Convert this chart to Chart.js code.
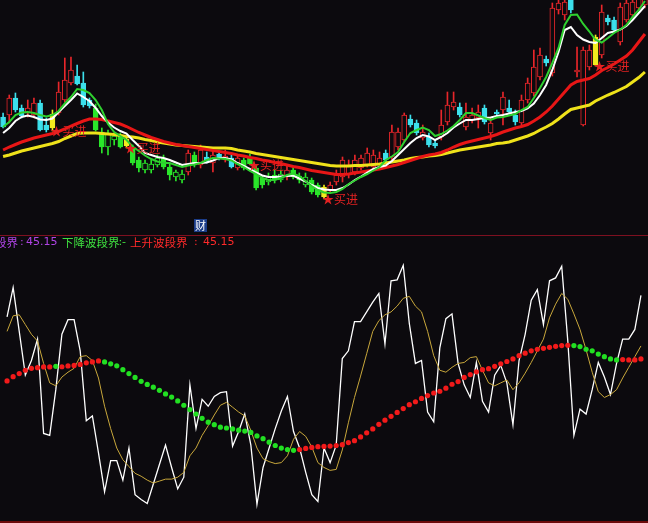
<!DOCTYPE html>
<html>
<head>
<meta charset="utf-8">
<script src="https://cdn.jsdelivr.net/npm/chart.js@4.4.1/dist/chart.umd.min.js"></script>
<style>
html, body { margin: 0; padding: 0; background: #0c0a0e; overflow: hidden; }
#wrap { position: relative; width: 648px; height: 523px; background: #0c0a0e; overflow: hidden; }
canvas { position: absolute; left: 0; }
.sep { position: absolute; left: 0; width: 648px; height: 1px; background: #7e1020; }
.lg { position: absolute; top: 235px; line-height: 14px; white-space: pre; }
.lg.name { font-size: 11.5px; font-family: "Noto Sans CJK SC", sans-serif; }
.lg.val { font-size: 11px; font-family: "DejaVu Sans", sans-serif; }
#cai { position: absolute; left: 194px; top: 219px; width: 13px; height: 13px; background: #1b3c88;
       color: #fff; font: 11px/13px "Noto Sans CJK SC", sans-serif; text-align: center; }
</style>
</head>
<body>
<div id="wrap">
  <canvas id="kline" width="648" height="235" style="top:0"></canvas>
  <canvas id="osc" width="648" height="288" style="top:235px"></canvas>
  <div class="sep" style="top:235px"></div>
  <div class="sep" style="top:521px;height:2px;background:#6c0a0a"></div>
  <div id="cai">财</div>
</div>
<script>
/* ============================================================
   DATA
============================================================ */
const days = Array.from({ length: 105 }, (_, i) => "D" + (i + 1));

const open = [48.3,48.5,50.2,49.2,48.7,48.5,49.7,47.5,47.2,48.7, 50.0,51.7,52.4,51.7,50.0,49.2,46.8,45.3,46.0,46.4,
  45.4,45.2,44.0,43.0,43.0,43.5,44.2,43.3,42.3,42.0, 42.8,44.5,43.5,44.3,43.7,44.6,44.0,44.2,43.2,44.0,
  44.3,43.2,42.2,41.8,42.5,42.0,42.3,43.0,42.4,41.5, 42.0,41.5,40.3,41.0,41.8,42.3,42.5,42.8,43.2,43.5,
  43.3,43.5,44.7,44.3,45.3,46.0,48.1,47.7,46.2,46.3, 45.7,46.3,47.8,49.3,49.3,47.3,48.0,48.2,49.2,46.7,
  48.8,49.0,49.2,48.5,47.7,50.0,50.7,52.3,54.1,52.7, 59.0,58.5,60.0,52.8,47.5,53.3,53.5,54.5,58.2,58.0,
  55.8,58.0,58.5,59.2,59.5];
const close = [47.3,50.2,49.0,48.4,49.2,49.7,47.0,47.0,48.6,50.8, 52.0,53.0,51.6,49.5,49.4,47.0,45.3,46.7,46.4,45.3,
  46.1,43.7,43.2,43.7,43.6,44.2,43.3,42.5,42.8,42.6, 44.7,43.5,45.0,43.9,44.5,44.2,44.4,43.3,44.2,43.2,
  43.6,41.2,41.5,42.4,42.0,42.6,43.0,42.3,42.0,42.3, 40.8,40.5,41.3,41.5,42.5,44.0,43.5,44.0,44.2,44.7,
  44.5,44.2,44.0,46.8,46.8,48.5,47.5,46.7,46.8,45.5, 45.4,47.5,49.5,49.8,48.5,48.3,48.5,48.8,47.8,47.7,
  48.6,50.3,48.8,47.8,50.0,51.7,53.3,54.5,53.7,59.2, 59.7,59.8,59.0,53.0,55.0,55.0,56.3,58.8,57.8,57.0,
  59.3,59.7,59.8,60.3,60.3];
const high = [48.7,50.5,50.7,49.5,50.0,50.2,50.0,48.2,49.0,51.8, 54.2,54.3,53.5,52.8,50.2,49.6,47.2,47.0,46.7,46.7,
  46.4,45.5,44.3,44.0,44.0,44.5,44.5,43.6,43.0,43.0, 45.0,44.8,45.5,44.8,45.0,44.8,45.0,44.5,44.5,44.2,
  44.6,43.5,42.4,42.7,43.0,43.0,43.5,43.4,42.7,42.7, 42.2,41.7,41.5,41.8,43.0,44.3,44.0,44.5,44.5,45.2,
  45.0,44.8,45.0,47.5,47.2,48.7,48.5,48.0,47.5,46.7, 46.0,49.0,50.8,50.8,49.7,49.7,49.2,49.5,49.5,48.2,
  49.0,50.8,50.0,49.0,50.5,52.2,55.0,55.2,54.4,59.7, 60.5,60.5,60.5,55.3,55.3,55.5,56.5,59.5,58.5,58.3,
  59.7,60.5,60.5,60.5,60.5];
const low = [47.2,47.7,48.8,48.2,48.3,48.2,46.9,46.8,46.9,48.5, 49.8,51.5,51.5,49.3,49.2,46.9,44.7,44.5,45.5,45.2,
  45.2,43.5,42.8,42.7,42.7,43.3,43.1,42.0,41.9,41.7, 42.5,43.3,43.2,43.7,42.8,44.0,43.8,43.2,43.0,43.0,
  43.5,41.0,41.2,41.5,41.7,41.8,42.0,42.1,41.7,41.3, 40.6,40.3,40.1,40.7,41.5,41.8,42.2,42.5,43.0,43.3,
  43.0,43.2,43.8,44.0,45.0,45.8,47.3,46.5,46.0,45.3, 45.2,46.0,47.5,49.0,48.3,47.0,47.7,47.2,47.6,46.0,
  48.4,47.5,48.6,47.5,47.4,49.7,50.4,52.0,53.4,52.4, 58.6,58.0,58.7,52.3,47.4,53.0,53.4,54.2,57.5,56.7,
  55.5,57.8,58.2,59.0,59.2];

// weak-trend bars (green), signal bars (yellow), buy labels
const weakRanges = [[15, 19], [21, 29], [31, 31], [39, 45], [47, 51]];
const signalBars = [8, 20, 52, 96];
const buyBars = [8, 20, 40, 52, 96];

const maSlow = [44.35,44.5,44.7,44.9,45.05,45.2,45.35,45.5,45.65,45.85, 46.15,46.4,46.65,46.7,46.7,46.7,46.65,46.6,46.55,46.45,
  46.35,46.3,46.2,46.05,45.95,45.8,45.7,45.6,45.5,45.45, 45.4,45.35,45.3,45.25,45.2,45.2,45.2,45.15,45.0,44.9,
  44.8,44.65,44.55,44.45,44.35,44.25,44.15,44.05,43.95,43.85, 43.75,43.65,43.55,43.45,43.4,43.4,43.4,43.45,43.45,43.5,
  43.55,43.6,43.7,43.8,43.9,44.0,44.15,44.25,44.3,44.4, 44.45,44.55,44.7,44.85,45.0,45.1,45.2,45.3,45.4,45.5,
  45.65,45.7,45.8,46.0,46.2,46.4,46.65,47.0,47.3,47.65, 48.1,48.6,49.05,49.2,49.35,49.5,49.9,50.2,50.5,50.75,
  51.05,51.35,51.8,52.25,52.8];
const maMid = [45.0,45.3,45.55,45.8,46.0,46.2,46.35,46.5,46.65,46.85, 47.1,47.4,47.65,47.9,48.1,48.1,48.05,47.9,47.75,47.6,
  47.35,47.05,46.75,46.5,46.25,46.05,45.85,45.7,45.55,45.45, 45.35,45.25,45.15,45.05,44.95,44.85,44.75,44.65,44.5,44.4,
  44.25,44.15,44.0,43.9,43.75,43.65,43.5,43.35,43.25,43.1, 42.95,42.85,42.75,42.65,42.55,42.55,42.6,42.7,42.8,42.9,
  43.0,43.1,43.25,43.4,43.55,43.75,43.95,44.15,44.35,44.5, 44.6,44.75,45.0,45.3,45.55,45.75,45.9,46.05,46.2,46.35,
  46.55,46.8,47.0,47.2,47.35,47.55,47.9,48.3,48.8,49.4, 50.1,50.8,51.5,51.85,52.0,52.15,52.5,52.95,53.25,53.6,
  54.0,54.4,55.0,55.8,56.6];
const fastWhite = [46.7,47.2,47.9,48.3,48.45,48.3,48.05,48.0,48.15,48.8, 49.4,50.0,50.65,50.3,49.9,49.2,48.4,47.75,47.25,46.9,
  46.65,46.0,45.4,44.7,44.5,44.3,44.2,44.0,43.75,43.5, 43.6,43.7,43.7,43.75,43.95,44.2,44.2,44.05,43.7,43.4,
  43.1,42.75,42.45,42.3,42.3,42.35,42.4,42.45,42.15,41.85, 41.5,41.2,41.05,41.0,41.0,41.2,41.55,42.0,42.35,42.75,
  43.1,43.3,43.45,43.9,44.5,45.1,45.7,46.2,46.5,46.35, 46.0,46.3,46.7,47.25,47.65,48.0,48.0,48.1,48.2,48.25,
  48.4,48.5,48.65,48.8,48.9,49.15,49.65,50.5,51.5,53.0, 54.8,57.0,57.3,56.5,56.05,55.8,55.7,56.2,56.7,56.85,
  57.05,57.4,58.0,58.7,59.4];
const fastGreen = [47.3,47.8,48.5,48.75,48.8,48.7,48.5,48.35,48.5,48.9, 49.65,50.3,51.1,51.0,50.7,50.0,49.0,47.6,46.8,46.4,
  46.0,45.35,44.9,44.45,44.1,43.85,43.7,43.7,43.5,43.3, 43.45,43.55,43.7,44.0,44.2,44.15,44.1,43.95,43.6,43.3,
  42.9,42.6,42.2,42.0,42.0,42.2,42.5,42.65,42.4,41.9, 41.4,41.0,40.75,40.7,40.8,41.1,41.6,41.95,42.3,42.6,
  42.95,43.3,44.0,44.35,44.8,45.8,46.7,47.0,47.25,47.0, 46.4,46.6,46.95,47.4,48.0,48.7,48.7,48.45,48.2,48.0,
  48.25,48.3,48.45,48.6,49.0,49.3,50.2,51.2,52.3,53.7, 55.2,57.5,58.5,58.55,57.6,56.85,56.0,55.75,56.2,56.7,
  57.05,57.5,58.3,59.0,59.9];

const oscLine = [104,119,96.5,74,81.5,92.5,44,43,66.5,95, 102.5,102.5,86.5,50.5,53,34,14,30,30,20,
  36.5,12.5,10,8,18,28,38,26.5,15.5,21.5, 69,46.5,61.5,58,63,65,65.5,37.5,45,54,
  38,7.5,26.5,36.5,46.5,55.5,63,45,36.5,24, 12.5,9,36.5,29,38,82.5,86.5,101.5,101.5,106.5,
  111.5,116,90,122.5,123,130.5,100.5,80,81.5,55, 50,88,103,105.5,80,69,62.5,80.5,60.5,55,
  74,79,70,48.5,81.5,95,112.5,118,100,122.5, 124,130,91.5,43,56.5,54,66.5,80.5,73,64,
  80,92.5,92.5,97.5,115];
const oscSignal = [96.5,104.5,105,100,95,91.5,80,70,68.5,73, 75.5,77.5,83.5,84,81.5,72.5,58,46.5,36.5,30.5,
  27,23.5,22,20,18.5,19.5,20.5,20.5,21.5,24, 32.5,36.5,43,48,53.5,58.5,60,57.5,55,53,
  45.5,36.5,31,29.5,28.5,29,32.5,41,45,42.5, 37,29,26.5,25,25.5,35.5,49.5,62.5,73.5,85,
  96.5,102,105,106.5,109.5,113.5,114.5,109.5,106.5,96.5, 84,76.5,75.5,78,80,80.5,83,83.5,76.5,70,
  68.5,70,71.5,66.5,70,75,80.5,86.5,92.5,103.5, 110.5,116,113,105.5,97.5,87,75.5,65.5,62.5,64,
  66.5,72.5,78,83.5,89];
const bandLine = [71,73.2,74.8,76.5,77.5,77.8,78.2,78.2,78.5,78.3, 78.7,79,79.5,80.3,80.8,81.3,80.8,79.8,78.8,76.8,
  74.8,72.8,70.8,69.2,67.8,66.2,64.3,62.7,60.7,58.5, 56.3,54,51.8,49.8,48.5,47.2,46.8,46.3,45.7,45.2,
  44.5,42.7,41.3,39.5,37.8,36.5,35.7,35.3,35.7,36.3, 36.8,37.2,37.3,37.5,37.8,38.2,39.3,40.3,42.2,44.3,
  46.3,48.7,50.8,52.8,54.8,56.8,58.8,60.3,62,63.5, 64.8,65.7,67.3,69.3,70.7,72.8,74.3,75.7,76.8,77.3,
  78.5,79.8,81,82.3,84,85.3,86.5,87.3,87.8,88.3, 88.8,89.2,89.3,89.2,88.7,87.3,86.5,84.8,83.5,82.3,
  81.8,82,81.8,81.8,82.3];
// falling-band segments (green dots)
const bandDownRanges = [[8, 8], [16, 47], [93, 100]];

const legendNames = ["段界", "下降波段界", "上升波段界"];
const legendValues = ["45.15", "-", "45.15"];

/* ============================================================
   COLORS
============================================================ */
const BG = "#0c0a0e";
const C_RED = "#e8262a";
const C_CYAN = "#3ce0ec";
const C_GREEN = "#2ae62a";
const C_YELLOW = "#f2ec1e";

function inRanges(i, ranges) {
    return ranges.some(r => i >= r[0] && i <= r[1]);
}

const candleColor = open.map((o, i) => {
    if (signalBars.includes(i)) return C_YELLOW;
    if (inRanges(i, weakRanges)) return C_GREEN;
    return close[i] >= o ? C_RED : C_CYAN;
});
const bodyFill = open.map((o, i) => {
    if (signalBars.includes(i)) return C_YELLOW;
    return close[i] >= o ? BG : candleColor[i];
});

/* ============================================================
   LEGEND ROW (name, colon, value)
============================================================ */
const legendColors = ["#b044e6", "#3fe03f", "#ff2a2a"];
const legendPos = [[-5, 20, 26], [62, 118.5, 122], [130, 194, 203]];

function addSpan(cls, text, left, color) {
    const s = document.createElement("span");
    s.className = "lg " + cls;
    s.textContent = text;
    s.style.left = left + "px";
    s.style.color = color;
    document.getElementById("wrap").appendChild(s);
}

legendNames.forEach((name, i) => {
    const p = legendPos[i];
    addSpan("name", name, p[0], legendColors[i]);
    addSpan("val", ":", p[1], legendColors[i]);
    addSpan("val", legendValues[i], p[2], legendColors[i]);
});

/* ============================================================
   BUY LABELS PLUGIN
============================================================ */
const buyLabels = {
    id: "buyLabels",
    afterDatasetsDraw(chart) {
        const ctx = chart.ctx;
        const xs = chart.scales.x, ys = chart.scales.y;
        ctx.save();
        ctx.font = "12px 'Noto Sans CJK SC'";
        ctx.fillStyle = "#e42222";
        ctx.textBaseline = "middle";
        ctx.textAlign = "left";
        buyBars.forEach(i => {
            ctx.fillText("★买进", xs.getPixelForValue(i) - 2, ys.getPixelForValue(low[i]));
        });
        ctx.restore();
    }
};

/* ============================================================
   K-LINE PANEL
============================================================ */
function lineSet(data, color, width, order) {
    return {
        type: "line", data: data, borderColor: color, borderWidth: width,
        pointRadius: 0, tension: 0, fill: false, order: order
    };
}

new Chart(document.getElementById("kline"), {
    type: "bar",
    data: {
        labels: days,
        datasets: [{
                data: low.map((l, i) => [l, high[i]]),
                backgroundColor: candleColor,
                barThickness: 1,
                grouped: false,
                order: 6
            },
            {
                data: open.map((o, i) => [o, close[i]]),
                backgroundColor: bodyFill,
                borderColor: candleColor,
                borderWidth: 1,
                borderSkipped: false,
                barThickness: 5,
                minBarLength: 1,
                grouped: false,
                order: 5
            },
            lineSet(maSlow, "#efe21a", 3, 4),
            lineSet(maMid, "#e81616", 3, 3),
            lineSet(fastWhite, "#ffffff", 2, 2),
            lineSet(fastGreen, "#2fd02f", 2, 1)
        ]
    },
    options: {
        responsive: false,
        animation: false,
        devicePixelRatio: 1,
        layout: { padding: 0 },
        plugins: { legend: { display: false }, tooltip: { enabled: false } },
        scales: {
            x: { display: false, offset: true },
            y: { display: false, min: 36.5, max: 60 }
        }
    },
    plugins: [buyLabels]
});

/* ============================================================
   OSCILLATOR PANEL
============================================================ */
new Chart(document.getElementById("osc"), {
    type: "line",
    data: {
        labels: days,
        datasets: [{
                data: bandLine,
                showLine: false,
                pointRadius: 2.6,
                pointBorderWidth: 0,
                pointBackgroundColor: bandLine.map((v, i) => inRanges(i, bandDownRanges) ? "#22e022" : "#f21a1a"),
                order: 1
            },
            { data: oscSignal, borderColor: "#c9a83c", borderWidth: 1, pointRadius: 0, tension: 0, order: 2 },
            { data: oscLine, borderColor: "#ffffff", borderWidth: 1.3, pointRadius: 0, tension: 0, order: 3 }
        ]
    },
    options: {
        responsive: false,
        animation: false,
        devicePixelRatio: 1,
        layout: { padding: 0 },
        plugins: { legend: { display: false }, tooltip: { enabled: false } },
        scales: {
            x: { display: false, offset: true },
            y: { display: false, min: 0, max: 144 }
        }
    }
});
</script>
</body>
</html>
